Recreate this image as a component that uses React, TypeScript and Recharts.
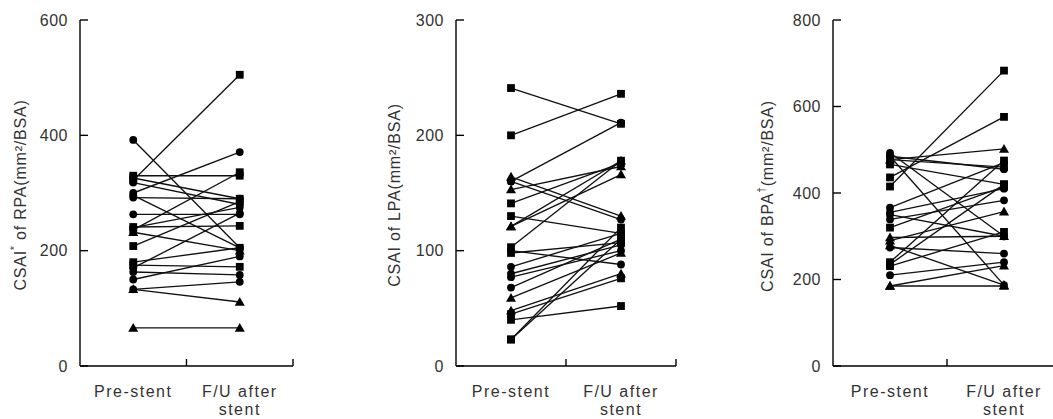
import React from 'react';
import { ScatterChart, Scatter, XAxis, YAxis } from 'recharts';

type Kind = 'circle' | 'square' | 'triangle';

const categories = ['Pre-stent', 'F/U after', 'stent'];

// Panel 1: CSAI of RPA
const rpaTicks = [0, 200, 400, 600];
const rpaPre = [392, 322, 330, 326, 318, 300, 292, 296, 263, 241, 236, 232, 240, 208, 180, 175, 170, 163, 150, 133, 133, 66];
const rpaPost = [205, 505, 330, 290, 280, 371, 290, 205, 263, 243, 336, 200, 275, 285, 205, 172, 265, 158, 190, 146, 111, 66];
const rpaShapes: Kind[] = ['circle', 'square', 'square', 'square', 'circle', 'circle', 'circle', 'circle', 'circle', 'square', 'square', 'triangle', 'circle', 'square', 'square', 'square', 'circle', 'circle', 'circle', 'circle', 'triangle', 'triangle'];

// Panel 2: CSAI of LPA
const lpaTicks = [0, 100, 200, 300];
const lpaPre = [241, 200, 160, 164, 160, 153, 141, 130, 121, 121, 103, 98, 100, 86, 80, 77, 68, 59, 48, 45, 40, 23, 23];
const lpaPost = [210, 236, 211, 130, 127, 173, 176, 115, 166, 178, 178, 107, 88, 115, 105, 100, 110, 98, 80, 76, 52, 120, 110];
const lpaShapes: Kind[] = ['square', 'square', 'circle', 'triangle', 'circle', 'triangle', 'square', 'square', 'triangle', 'triangle', 'square', 'square', 'circle', 'circle', 'circle', 'circle', 'circle', 'triangle', 'triangle', 'square', 'square', 'square', 'square'];

// Panel 3: CSAI of BPA
const bpaTicks = [0, 200, 400, 600, 800];
const bpaPre = [415, 436, 477, 485, 477, 493, 466, 485, 366, 355, 339, 350, 320, 297, 290, 274, 279, 240, 235, 231, 210, 185, 185];
const bpaPost = [683, 576, 502, 455, 460, 300, 420, 187, 470, 410, 383, 300, 415, 300, 357, 260, 187, 475, 420, 310, 240, 232, 185];
const bpaShapes: Kind[] = ['square', 'square', 'triangle', 'circle', 'square', 'circle', 'square', 'circle', 'circle', 'circle', 'circle', 'circle', 'square', 'triangle', 'triangle', 'circle', 'triangle', 'square', 'square', 'square', 'circle', 'triangle', 'triangle'];

const FONT = '"Liberation Sans", Arial, sans-serif';
const TEXT = '#333';

function Marker(props: any) {
  const { cx, cy, kind } = props;
  if (cx == null || cy == null) return null;
  if (kind === 'square') return <rect x={cx - 3.9} y={cy - 3.9} width={7.8} height={7.8} fill="#000" />;
  if (kind === 'triangle')
    return <polygon points={`${cx},${cy - 5} ${cx - 5},${cy + 3.8} ${cx + 5},${cy + 3.8}`} fill="#000" />;
  return <circle cx={cx} cy={cy} r={3.9} fill="#000" />;
}

function XTick(props: any) {
  const { x, y, payload } = props;
  const v = payload.value;
  if (v === 0) return null;
  if (v === 1 || v === 2) return <line x1={x} x2={x} y1={y} y2={y - 7} stroke="#000" strokeWidth={1.4} />;
  const common = { fontFamily: FONT, fontSize: 16, fill: TEXT, letterSpacing: 1.5, textAnchor: 'middle' as const };
  if (v === 0.5)
    return (
      <text x={x} y={y + 31} {...common}>
        {categories[0]}
      </text>
    );
  return (
    <g>
      <text x={x} y={y + 31} {...common}>
        {categories[1]}
      </text>
      <text x={x} y={y + 49} {...common}>
        {categories[2]}
      </text>
    </g>
  );
}

function YTick(props: any) {
  const { x, y, payload } = props;
  return (
    <g>
      <line x1={x} x2={x + 8} y1={y} y2={y} stroke="#000" strokeWidth={1.4} />
      <text x={x - 12} y={y} dy="0.36em" textAnchor="end" fontFamily={FONT} fontSize={16} fill={TEXT} letterSpacing={0.5}>
        {payload.value}
      </text>
    </g>
  );
}

function Panel(props: {
  left: number;
  width: number;
  marginLeft: number;
  marginRight: number;
  yMax: number;
  yTicks: number[];
  pre: number[];
  post: number[];
  shapes: Kind[];
}) {
  const { left, width, marginLeft, marginRight, yMax, yTicks, pre, post, shapes } = props;
  const series = pre.map((p, i) => [
    { x: 0.5, y: p },
    { x: 1.5, y: post[i] },
  ]);
  return (
    <div style={{ position: 'absolute', left, top: 0 }}>
      <ScatterChart width={width} height={419} margin={{ top: 20, right: marginRight, bottom: 0, left: marginLeft }}>
        <XAxis
          type="number"
          dataKey="x"
          domain={[0, 2]}
          ticks={[0, 0.5, 1, 1.5, 2]}
          interval={0}
          tickSize={0}
          tickMargin={0}
          tickLine={false}
          axisLine={{ stroke: '#000', strokeWidth: 1.4 }}
          tick={<XTick />}
          height={53}
        />
        <YAxis
          type="number"
          dataKey="y"
          domain={[0, yMax]}
          ticks={yTicks}
          interval={0}
          width={60}
          tickSize={0}
          tickMargin={0}
          tickLine={false}
          axisLine={{ stroke: '#000', strokeWidth: 1.4 }}
          tick={<YTick />}
        />
        {series.map((d, i) => (
          <Scatter
            key={i}
            data={d}
            isAnimationActive={false}
            line={{ stroke: '#111', strokeWidth: 1.35 }}
            shape={(sp: any) => <Marker {...sp} kind={shapes[i]} />}
          />
        ))}
      </ScatterChart>
    </div>
  );
}

function YLabel({ cx, cy, main, sup, rest }: { cx: number; cy: number; main: string; sup: string; rest: string }) {
  return (
    <text
      transform={`translate(${cx},${cy}) rotate(-90)`}
      textAnchor="middle"
      dominantBaseline="central"
      fontFamily={FONT}
      fontSize={16}
      fill={TEXT}
      letterSpacing={0.8}
    >
      {main}
      {sup ? (
        <tspan fontSize={10} dy={-6}>
          {sup}
        </tspan>
      ) : null}
      <tspan dy={sup ? 6 : 0}>{rest}</tspan>
    </text>
  );
}

export default function App() {
  return (
    <div style={{ position: 'absolute', left: 0, top: 0, width: 1053, height: 419, overflow: 'hidden', background: '#fff' }}>
      <Panel left={0} width={351} marginLeft={20} marginRight={58} yMax={600} yTicks={rpaTicks} pre={rpaPre} post={rpaPost} shapes={rpaShapes} />
      <Panel left={351} width={351} marginLeft={45} marginRight={26} yMax={300} yTicks={lpaTicks} pre={lpaPre} post={lpaPost} shapes={lpaShapes} />
      <Panel left={702} width={359} marginLeft={71} marginRight={0} yMax={800} yTicks={bpaTicks} pre={bpaPre} post={bpaPost} shapes={bpaShapes} />
      <svg width={1053} height={419} style={{ position: 'absolute', left: 0, top: 0, pointerEvents: 'none' }}>
        <YLabel cx={20} cy={195} main="CSAI" sup="*" rest=" of RPA(mm²/BSA)" />
        <YLabel cx={394} cy={195} main="CSAI of LPA(mm²/BSA)" sup="" rest="" />
        <YLabel cx={767} cy={196} main="CSAI of BPA" sup="†" rest="(mm²/BSA)" />
      </svg>
    </div>
  );
}
